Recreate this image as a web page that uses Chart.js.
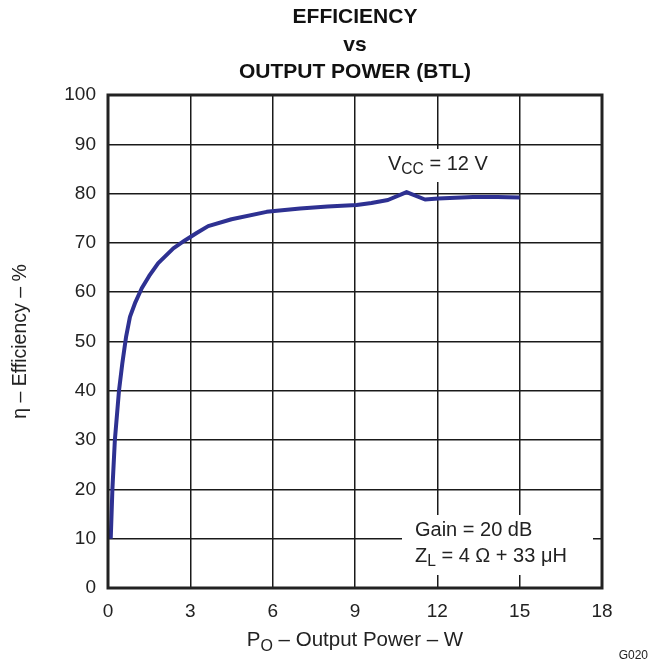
<!DOCTYPE html>
<html>
<head>
<meta charset="utf-8">
<script src="https://cdn.jsdelivr.net/npm/chart.js@4/dist/chart.umd.min.js"></script>
<style>
  html, body { margin: 0; padding: 0; background: #fff; }
  #wrap { width: 656px; height: 668px; position: relative; }
</style>
</head>
<body>
<div id="wrap"><canvas id="effChart" width="656" height="668"></canvas></div>
<script>
// Efficiency vs output power (BTL)
const powerW = [0.1, 0.16, 0.25, 0.4, 0.52, 0.66, 0.8, 1.0, 1.23, 1.5, 1.83, 2.38, 2.8, 3.23, 3.65, 4.5, 5.78, 7.0, 8.0, 9.06, 9.6, 10.2, 10.88, 11.55, 12.03, 13.3, 14.2, 15.0];
const efficiency = [10, 20, 30, 40, 45.5, 51, 55, 58, 60.8, 63.3, 65.9, 68.9, 70.5, 72, 73.4, 74.8, 76.3, 77, 77.4, 77.7, 78.1, 78.7, 80.3, 78.8, 79.0, 79.3, 79.3, 79.2];
const xTicks = [0, 3, 6, 9, 12, 15, 18];
const yTicks = [0, 10, 20, 30, 40, 50, 60, 70, 80, 90, 100];
const titleLines = ["EFFICIENCY", "vs", "OUTPUT POWER (BTL)"];

const FONT = "'Liberation Sans', Arial, sans-serif";
const ctx = document.getElementById("effChart");

// draw text with a subscript part: [[text, isSub], ...]
function drawSubText(c, parts, x, y, size, align) {
    let total = 0;
    parts.forEach(p => {
        c.font = (p[1] ? size * 0.78 : size) + "px " + FONT;
        total += c.measureText(p[0]).width;
    });
    let cx = align === "center" ? x - total / 2 : x;
    c.textAlign = "left";
    parts.forEach(p => {
        c.font = (p[1] ? size * 0.78 : size) + "px " + FONT;
        c.fillText(p[0], cx, p[1] ? y + size * 0.3 : y);
        cx += c.measureText(p[0]).width;
    });
}

const decorPlugin = {
    id: "decor",
    afterDatasetsDraw(chart) {
        const c = chart.ctx, a = chart.chartArea;
        c.save();
        // white boxes behind the notes
        c.fillStyle = "#fff";
        c.fillRect(383, 149, 115, 33);
        c.fillRect(402, 515, 191, 60);
        c.fillStyle = "#222";
        c.textBaseline = "middle";
        drawSubText(c, [["V", false], ["CC", true], [" = 12 V", false]], 388, 164, 20, "left");
        drawSubText(c, [["Gain = 20 dB", false]], 415, 530, 20, "left");
        drawSubText(c, [["Z", false], ["L", true], [" = 4 \u03A9 + 33 \u03BCH", false]], 415, 556, 20, "left");
        // frame
        c.strokeStyle = "#222";
        c.lineWidth = 3;
        c.strokeRect(a.left, a.top, a.right - a.left, a.bottom - a.top);
        // title
        c.fillStyle = "#111";
        c.textAlign = "center";
        c.textBaseline = "alphabetic";
        c.font = "bold 21px " + FONT;
        const mid = (a.left + a.right) / 2;
        titleLines.forEach((t, i) => c.fillText(t, mid, 23 + i * 27.5));
        // axis titles
        c.fillStyle = "#222";
        c.textBaseline = "middle";
        drawSubText(c, [["P", false], ["O", true], [" \u2013 Output Power \u2013 W", false]], mid, 640, 20.5, "center");
        c.save();
        c.translate(21, (a.top + a.bottom) / 2);
        c.rotate(-Math.PI / 2);
        drawSubText(c, [["\u03B7 \u2013 Efficiency \u2013 %", false]], 0, 0, 19.5, "center");
        c.restore();
        c.font = "12px " + FONT;
        c.textAlign = "right";
        c.fillText("G020", 648, 656);
        c.restore();
    }
};

new Chart(ctx, {
    type: "line",
    data: {
        datasets: [{
            data: powerW.map((p, i) => ({ x: p, y: efficiency[i] })),
            borderColor: "#2e3192",
            borderWidth: 4,
            pointRadius: 0,
            tension: 0,
            borderJoinStyle: "round",
            fill: false
        }]
    },
    options: {
        responsive: false,
        animation: false,
        layout: { padding: { top: 95, right: 54, left: 0, bottom: 0 } },
        plugins: { legend: { display: false }, tooltip: { enabled: false } },
        scales: {
            x: {
                type: "linear", min: 0, max: 18,
                afterBuildTicks: s => { s.ticks = xTicks.map(v => ({ value: v })); },
                afterFit: s => { s.height = 80; },
                grid: { color: "#1a1a1a", lineWidth: 1.5, drawTicks: false },
                border: { display: false },
                ticks: { color: "#222", font: { family: FONT, size: 19 }, padding: 12 }
            },
            y: {
                type: "linear", min: 0, max: 100,
                afterBuildTicks: s => { s.ticks = yTicks.map(v => ({ value: v })); },
                afterFit: s => { s.width = 108; },
                grid: { color: "#1a1a1a", lineWidth: 1.5, drawTicks: false },
                border: { display: false },
                ticks: { color: "#222", font: { family: FONT, size: 19 }, padding: 12 }
            }
        }
    },
    plugins: [decorPlugin]
});
</script>
</body>
</html>
